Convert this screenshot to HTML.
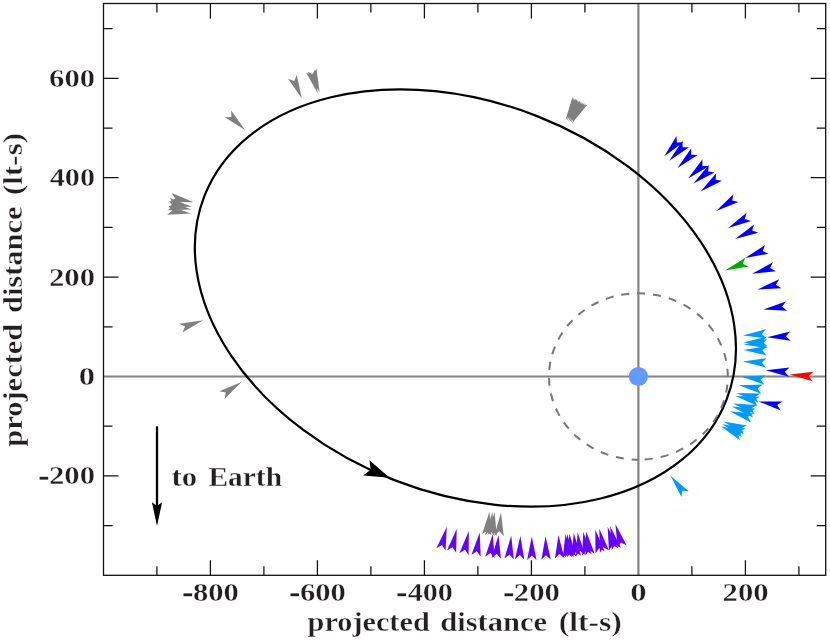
<!DOCTYPE html>
<html><head><meta charset="utf-8"><title>orbit</title>
<style>html,body{margin:0;padding:0;background:#fff}svg{display:block}</style></head>
<body>
<svg width="830" height="641" viewBox="0 0 830 641">
<rect width="830" height="641" fill="#fff"/>
<line x1="103.5" y1="376.5" x2="825.7" y2="376.5" stroke="#848484" stroke-width="2.2"/>
<line x1="638.4" y1="3.5" x2="638.4" y2="575.3" stroke="#848484" stroke-width="2.2"/>
<ellipse cx="465.4" cy="298.0" rx="280.2" ry="195.5" transform="rotate(21.3 465.4 298.0)" fill="none" stroke="#000" stroke-width="2.2"/>
<path d="M638.4 293.3A89.4 83.2 0 0 1 638.4 459.7" fill="none" stroke="#777" stroke-width="2" stroke-dasharray="8.05 8.05" stroke-dashoffset="1.3"/>
<path d="M638.4 293.3A89.4 83.2 0 0 0 638.4 459.7" fill="none" stroke="#777" stroke-width="2" stroke-dasharray="8 7.92" stroke-dashoffset="6.7"/>
<circle cx="638.4" cy="376.5" r="9.6" fill="#6699ff"/>
<polygon points="245.1,130.0 231.2,110.5 231.3,117.0 224.8,117.3" fill="#808080"/>
<polygon points="301.8,98.4 296.8,75.0 294.2,81.0 288.1,78.8" fill="#808080"/>
<polygon points="317.8,93.4 315.0,69.6 311.9,75.3 306.1,72.5" fill="#808080"/>
<polygon points="319.7,92.4 316.4,68.6 313.4,74.4 307.5,71.7" fill="#808080"/>
<polygon points="193.8,202.3 171.7,192.9 175.2,198.4 169.8,202.1" fill="#808080"/>
<polygon points="192.0,206.7 169.7,198.0 173.3,203.4 168.0,207.2" fill="#808080"/>
<polygon points="191.6,209.4 169.2,200.9 172.8,206.3 167.6,210.2" fill="#808080"/>
<polygon points="191.0,213.5 168.5,205.4 172.2,210.7 167.1,214.7" fill="#808080"/>
<polygon points="203.1,320.3 179.3,323.7 185.1,326.6 182.4,332.5" fill="#808080"/>
<polygon points="241.5,382.0 219.4,391.2 225.7,392.6 224.6,399.0" fill="#808080"/>
<polygon points="489.5,511.5 482.0,534.3 487.2,530.4 491.3,535.4" fill="#808080"/>
<polygon points="492.4,512.1 485.1,534.9 490.2,531.0 494.4,536.0" fill="#808080"/>
<polygon points="494.6,512.1 487.5,535.0 492.6,531.0 496.8,536.0" fill="#808080"/>
<polygon points="501.0,512.4 494.4,535.4 499.4,531.3 503.8,536.2" fill="#808080"/>
<polygon points="565.5,119.9 580.8,101.4 574.5,103.2 572.5,97.0" fill="#808080"/>
<polygon points="566.8,120.6 582.1,102.1 575.8,103.9 573.8,97.7" fill="#808080"/>
<polygon points="568.3,121.3 583.6,102.9 577.3,104.6 575.3,98.4" fill="#808080"/>
<polygon points="569.5,121.9 584.8,103.5 578.5,105.2 576.5,99.0" fill="#808080"/>
<polygon points="570.8,122.6 586.1,104.2 579.8,105.9 577.8,99.7" fill="#808080"/>
<polygon points="572.1,123.3 587.4,104.8 581.1,106.6 579.1,100.4" fill="#808080"/>
<polygon points="446.8,526.7 436.4,548.3 442.0,545.1 445.5,550.7" fill="#6600ff"/>
<polygon points="456.7,528.7 447.0,550.6 452.5,547.3 456.1,552.7" fill="#6600ff"/>
<polygon points="468.8,531.1 459.4,553.2 464.9,549.7 468.6,555.1" fill="#6600ff"/>
<polygon points="479.7,532.5 471.4,555.0 476.7,551.3 480.7,556.5" fill="#6600ff"/>
<polygon points="492.8,534.0 485.2,556.7 490.4,552.9 494.5,557.9" fill="#6600ff"/>
<polygon points="498.5,534.9 491.6,557.9 496.7,553.8 500.9,558.7" fill="#6600ff"/>
<polygon points="511.2,535.6 504.4,558.6 509.5,554.5 513.8,559.4" fill="#6600ff"/>
<polygon points="520.4,535.9 514.9,559.2 519.8,554.9 524.3,559.6" fill="#6600ff"/>
<polygon points="531.8,536.4 527.1,559.9 531.8,555.4 536.5,559.9" fill="#6600ff"/>
<polygon points="545.5,536.2 541.4,559.8 545.9,555.2 550.8,559.6" fill="#6600ff"/>
<polygon points="558.5,534.9 554.9,558.6 559.4,553.9 564.3,558.1" fill="#6600ff"/>
<polygon points="565.5,534.0 562.7,557.8 567.0,552.9 572.1,557.1" fill="#6600ff"/>
<polygon points="567.2,534.0 564.6,557.8 568.9,552.9 573.9,557.0" fill="#6600ff"/>
<polygon points="569.4,533.5 567.0,557.3 571.2,552.4 576.3,556.5" fill="#6600ff"/>
<polygon points="573.7,533.0 571.7,556.9 575.9,551.9 581.0,555.8" fill="#6600ff"/>
<polygon points="577.6,532.3 576.0,556.2 580.0,551.1 585.3,555.0" fill="#6600ff"/>
<polygon points="583.3,531.7 582.2,555.7 586.2,550.5 591.5,554.2" fill="#6600ff"/>
<polygon points="586.2,531.4 585.4,555.4 589.3,550.2 594.7,553.8" fill="#6600ff"/>
<polygon points="595.3,529.4 595.5,553.4 599.2,548.0 604.7,551.5" fill="#6600ff"/>
<polygon points="599.3,528.7 599.9,552.7 603.5,547.3 609.0,550.6" fill="#6600ff"/>
<polygon points="607.6,526.7 609.0,550.7 612.4,545.1 618.1,548.3" fill="#6600ff"/>
<polygon points="610.2,526.2 611.8,550.1 615.2,544.6 620.9,547.7" fill="#6600ff"/>
<polygon points="615.5,524.3 617.6,548.2 620.9,542.6 626.7,545.5" fill="#6600ff"/>
<polygon points="742.9,335.5 766.7,338.4 761.9,334.1 766.0,329.1" fill="#0099ff"/>
<polygon points="743.4,342.6 767.1,346.1 762.4,341.6 766.6,336.7" fill="#0099ff"/>
<polygon points="743.8,344.6 767.5,348.3 762.8,343.8 767.1,338.9" fill="#0099ff"/>
<polygon points="743.4,349.9 766.7,355.4 762.4,350.5 767.1,346.0" fill="#0099ff"/>
<polygon points="742.9,361.6 766.1,367.6 761.9,362.6 766.6,358.2" fill="#0099ff"/>
<polygon points="741.7,376.8 764.3,384.7 760.5,379.4 765.6,375.4" fill="#0099ff"/>
<polygon points="738.8,385.3 761.2,393.8 757.6,388.4 762.8,384.5" fill="#0099ff"/>
<polygon points="736.4,393.1 758.4,402.6 755.0,397.1 760.4,393.4" fill="#0099ff"/>
<polygon points="735.6,396.0 757.5,405.9 754.1,400.3 759.6,396.7" fill="#0099ff"/>
<polygon points="733.0,403.4 754.5,414.0 751.4,408.3 756.9,404.9" fill="#0099ff"/>
<polygon points="731.7,406.5 753.0,417.5 750.0,411.7 755.6,408.4" fill="#0099ff"/>
<polygon points="729.8,411.2 750.9,422.6 748.0,416.8 753.7,413.6" fill="#0099ff"/>
<polygon points="723.4,421.5 743.7,434.2 741.1,428.2 747.0,425.4" fill="#0099ff"/>
<polygon points="722.0,423.9 741.9,437.3 739.5,431.2 745.5,428.6" fill="#0099ff"/>
<polygon points="720.7,426.2 740.1,440.2 737.9,434.1 744.0,431.7" fill="#0099ff"/>
<polygon points="670.5,475.8 681.4,497.1 682.3,490.7 688.8,491.3" fill="#0099ff"/>
<polygon points="664.1,156.4 683.4,142.3 676.9,142.4 676.5,135.9" fill="#0000ff"/>
<polygon points="669.3,160.8 689.1,147.3 682.6,147.2 682.4,140.7" fill="#0000ff"/>
<polygon points="677.5,168.0 697.7,155.0 691.2,154.8 691.2,148.3" fill="#0000ff"/>
<polygon points="688.1,178.4 708.8,166.3 702.3,165.8 702.5,159.3" fill="#0000ff"/>
<polygon points="693.4,183.5 714.6,172.4 708.2,171.6 708.7,165.1" fill="#0000ff"/>
<polygon points="700.6,191.5 722.0,180.8 715.6,179.8 716.2,173.3" fill="#0000ff"/>
<polygon points="716.2,210.9 738.5,202.1 732.2,200.6 733.4,194.2" fill="#0000ff"/>
<polygon points="728.2,228.0 751.1,220.9 744.9,218.9 746.6,212.7" fill="#0000ff"/>
<polygon points="735.1,239.0 758.3,232.8 752.1,230.6 754.1,224.4" fill="#0000ff"/>
<polygon points="745.1,258.1 768.6,253.7 762.7,251.0 765.1,244.9" fill="#0000ff"/>
<polygon points="752.0,273.8 775.9,271.2 770.1,268.1 773.0,262.3" fill="#0000ff"/>
<polygon points="757.5,289.5 781.5,288.3 775.9,284.8 779.2,279.2" fill="#0000ff"/>
<polygon points="763.3,309.6 787.2,310.8 782.1,306.8 785.9,301.5" fill="#0000ff"/>
<polygon points="767.0,337.3 790.7,340.8 786.0,336.3 790.2,331.4" fill="#0000ff"/>
<polygon points="765.8,370.2 788.9,376.8 784.7,371.7 789.6,367.4" fill="#0000ff"/>
<polygon points="758.5,401.4 780.7,410.6 777.2,405.1 782.5,401.4" fill="#0000ff"/>
<polygon points="725.1,270.6 748.7,266.6 742.8,263.8 745.3,257.8" fill="#00aa00"/>
<polygon points="789.7,374.5 812.7,381.2 808.6,376.1 813.5,371.8" fill="#ff0000"/>
<polygon points="389.6,477.8 369.5,460.3 370.7,469.8 363.1,475.4" fill="#000"/>
<line x1="157" y1="426.3" x2="157" y2="510" stroke="#000" stroke-width="2.3"/>
<polygon points="157.0,526.0 162.1,502.2 157.0,506.0 151.9,502.2" fill="#000"/>
<rect x="103.5" y="3.5" width="722.2" height="571.8" fill="none" stroke="#111" stroke-width="1.3"/>
<path d="M156.9 3.5v9M156.9 575.3v-9M210.4 3.5v15M210.4 575.3v-15M263.9 3.5v9M263.9 575.3v-9M317.4 3.5v15M317.4 575.3v-15M370.9 3.5v9M370.9 575.3v-9M424.4 3.5v15M424.4 575.3v-15M477.9 3.5v9M477.9 575.3v-9M531.4 3.5v15M531.4 575.3v-15M584.9 3.5v9M584.9 575.3v-9M691.9 3.5v9M691.9 575.3v-9M745.4 3.5v15M745.4 575.3v-15M798.9 3.5v9M798.9 575.3v-9M103.5 525.6h9M825.7 525.6h-9M103.5 475.9h15M825.7 475.9h-15M103.5 426.2h9M825.7 426.2h-9M103.5 326.8h9M825.7 326.8h-9M103.5 277.1h15M825.7 277.1h-15M103.5 227.4h9M825.7 227.4h-9M103.5 177.7h15M825.7 177.7h-15M103.5 128.0h9M825.7 128.0h-9M103.5 78.3h15M825.7 78.3h-15M103.5 28.6h9M825.7 28.6h-9" stroke="#111" stroke-width="1.25" fill="none"/>
<g opacity="0.999" font-family="'Liberation Serif', serif" font-weight="bold" fill="#231f20" stroke="#fff" stroke-width="0.35" stroke-linejoin="round">
<text x="193.03" y="600.9" textLength="45.89" lengthAdjust="spacingAndGlyphs" font-size="25.9">800</text>
<rect x="183.5" y="593.4" width="8.6" height="2.8" fill="#231f20" stroke="none"/>
<text x="300.03" y="600.9" textLength="45.89" lengthAdjust="spacingAndGlyphs" font-size="25.9">600</text>
<rect x="290.5" y="593.4" width="8.6" height="2.8" fill="#231f20" stroke="none"/>
<text x="407.65" y="600.9" textLength="45.26" lengthAdjust="spacingAndGlyphs" font-size="25.9">400</text>
<rect x="397.5" y="593.4" width="8.6" height="2.8" fill="#231f20" stroke="none"/>
<text x="513.87" y="600.9" textLength="46.06" lengthAdjust="spacingAndGlyphs" font-size="25.9">200</text>
<rect x="504.5" y="593.4" width="8.6" height="2.8" fill="#231f20" stroke="none"/>
<text x="630.39" y="600.9" textLength="16.43" lengthAdjust="spacingAndGlyphs" font-size="25.9">0</text>
<text x="722.57" y="600.9" textLength="46.06" lengthAdjust="spacingAndGlyphs" font-size="25.9">200</text>
<text x="49.13" y="86.7" textLength="45.89" lengthAdjust="spacingAndGlyphs" font-size="25.9">600</text>
<text x="49.75" y="186.1" textLength="45.26" lengthAdjust="spacingAndGlyphs" font-size="25.9">400</text>
<text x="48.97" y="285.5" textLength="46.06" lengthAdjust="spacingAndGlyphs" font-size="25.9">200</text>
<text x="78.80" y="384.9" textLength="16.31" lengthAdjust="spacingAndGlyphs" font-size="25.9">0</text>
<text x="48.97" y="484.3" textLength="46.06" lengthAdjust="spacingAndGlyphs" font-size="25.9">200</text>
<rect x="39.6" y="476.8" width="8.6" height="2.8" fill="#231f20" stroke="none"/>
<text x="307.55" y="630.5" textLength="122.18" lengthAdjust="spacingAndGlyphs" font-size="27">projected</text>
<text x="440.18" y="630.5" textLength="106.89" lengthAdjust="spacingAndGlyphs" font-size="27">distance</text>
<text x="558.68" y="630.5" textLength="63.11" lengthAdjust="spacingAndGlyphs" font-size="27">(lt-s)</text>
<text transform="translate(22.2 446.76) rotate(-90)" x="0" y="0" textLength="123.08" lengthAdjust="spacingAndGlyphs" font-size="27">projected</text>
<text transform="translate(22.2 313.02) rotate(-90)" x="0" y="0" textLength="106.48" lengthAdjust="spacingAndGlyphs" font-size="27">distance</text>
<text transform="translate(22.2 195.00) rotate(-90)" x="0" y="0" textLength="62.07" lengthAdjust="spacingAndGlyphs" font-size="27">(lt-s)</text>
<text x="171.54" y="485.7" textLength="25.63" lengthAdjust="spacingAndGlyphs" font-size="27">to</text>
<text x="208.46" y="485.7" textLength="73.58" lengthAdjust="spacingAndGlyphs" font-size="27">Earth</text>
</g>
</svg>
</body></html>
